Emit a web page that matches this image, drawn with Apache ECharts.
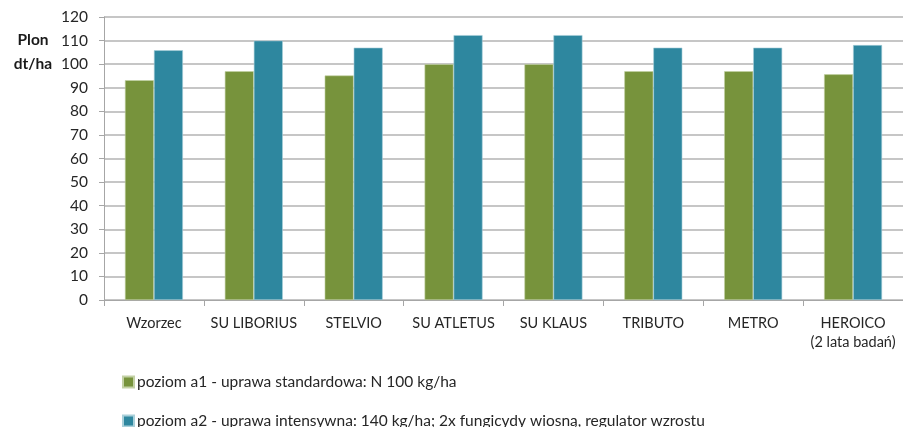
<!DOCTYPE html>
<html>
<head>
<meta charset="utf-8">
<script src="https://cdn.jsdelivr.net/npm/echarts@6/dist/echarts.min.js"></script>
<style>
  html, body { margin: 0; padding: 0; background: #fff; }
  #chart { width: 903px; height: 427px; }
</style>
</head>
<body>
<div id="chart"></div>
<script>
  // odmiany
  var categories = ['Wzorzec', 'SU LIBORIUS', 'STELVIO', 'SU ATLETUS', 'SU KLAUS', 'TRIBUTO', 'METRO', 'HEROICO\n(2 lata badań)'];
  // plon dt/ha
  var poziomA1 = [93.2, 97, 95.2, 100, 100, 97, 97, 95.7];
  var poziomA2 = [105.9, 110, 107, 112.3, 112.3, 107, 107, 108.1];
  var seriesNames = [
    'poziom a1 - uprawa standardowa: N 100 kg/ha',
    'poziom a2 - uprawa intensywna: 140 kg/ha; 2x fungicydy wiosną, regulator wzrostu'
  ];

  var font = 'Lato, "Open Sans", sans-serif';
  var legendText = { fontSize: 15.5, color: '#262626', fontFamily: font, padding: [0, 0, 0, -2] };

  var chart = echarts.init(document.getElementById('chart'));
  chart.setOption({
    animation: false,
    textStyle: { fontFamily: font },
    title: {
      text: 'Plon\ndt/ha',
      left: 28,
      top: 23,
      textAlign: 'center',
      textStyle: { fontSize: 15.5, fontWeight: 'bold', color: '#1a1a1a', lineHeight: 24, fontFamily: font, align: 'center' }
    },
    legend: [
      {
        data: [seriesNames[0]],
        left: 117,
        top: 369,
        itemWidth: 11,
        itemHeight: 11,
        icon: 'rect',
        textStyle: legendText
      },
      {
        data: [seriesNames[1]],
        left: 117,
        top: 408,
        itemWidth: 11,
        itemHeight: 11,
        icon: 'rect',
        textStyle: legendText
      }
    ],
    grid: { left: 104, right: 0, top: 17, bottom: 127 },
    xAxis: {
      type: 'category',
      data: categories,
      axisLine: { lineStyle: { color: '#a6a6a6', width: 1 } },
      axisTick: { show: true, alignWithLabel: false, length: 6, lineStyle: { color: '#a6a6a6' } },
      axisLabel: { fontSize: 14.5, color: '#262626', margin: 14, lineHeight: 19, interval: 0 }
    },
    yAxis: {
      type: 'value',
      min: 0,
      max: 120,
      interval: 10,
      axisLine: { show: true, lineStyle: { color: '#a6a6a6' } },
      axisTick: { show: true, length: 5, lineStyle: { color: '#a6a6a6' } },
      axisLabel: { fontSize: 15.5, color: '#262626', margin: 16 },
      splitLine: { lineStyle: { color: '#b3b3b3', width: 1.5 } }
    },
    series: [
      {
        name: seriesNames[0],
        type: 'bar',
        data: poziomA1,
        barWidth: 29,
        barGap: '0%',
        itemStyle: { color: '#77933c', borderColor: '#c3d1a5', borderWidth: 0.6 }
      },
      {
        name: seriesNames[1],
        type: 'bar',
        data: poziomA2,
        barWidth: 29,
        itemStyle: { color: '#2e879f', borderColor: '#a9d0da', borderWidth: 0.6 }
      }
    ]
  });
</script>
</body>
</html>
